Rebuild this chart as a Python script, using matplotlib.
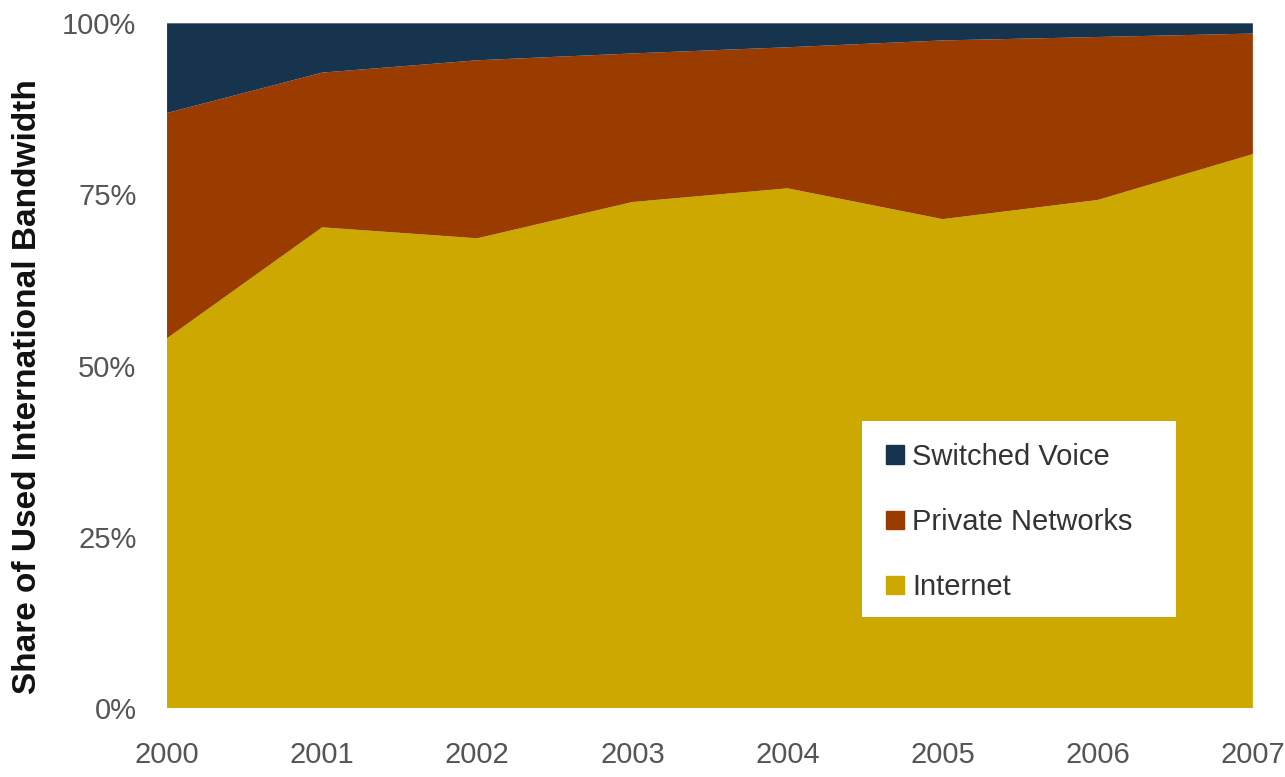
import matplotlib

matplotlib.use("Agg")
import matplotlib.pyplot as plt
from matplotlib.patches import Patch, Rectangle

years = [2000, 2001, 2002, 2003, 2004, 2005, 2006, 2007]
internet = [54.0, 70.2, 68.6, 73.9, 75.9, 71.4, 74.2, 80.9]
private_networks = [32.9, 22.6, 26.0, 21.7, 20.6, 26.1, 23.8, 17.6]
switched_voice = [13.1, 7.2, 5.4, 4.4, 3.5, 2.5, 2.0, 1.5]

series_labels = ["Internet", "Private Networks", "Switched Voice"]
colors = ["#cca800", "#9a3b00", "#17344f"]
y_ticks = [0, 25, 50, 75, 100]

plt.rcParams["font.family"] = ["Liberation Sans Narrow", "Liberation Sans", "DejaVu Sans"]

W, H = 1285, 777
fig = plt.figure(figsize=(W / 100, H / 100), dpi=100)
ax = fig.add_axes([0.130, 0.0888, 0.845, 0.8812])
ax.stackplot(years, internet, private_networks, switched_voice, colors=colors, linewidth=0)
ax.set_xlim(years[0], years[-1])
ax.set_ylim(0, 100)
ax.set_xticks(years)
ax.set_xticklabels([str(y) for y in years])
ax.set_yticks(y_ticks)
ax.set_yticklabels([f"{v}%" for v in y_ticks])
ax.tick_params(length=0, labelsize=21, labelcolor="#555555")
ax.tick_params(axis="x", pad=24)
ax.tick_params(axis="y", pad=22)
for spine in ax.spines.values():
    spine.set_visible(False)
ax.set_ylabel("Share of Used International Bandwidth", fontsize=24, fontweight="bold",
              color="#111111", family=["Liberation Sans", "DejaVu Sans"])
ax.yaxis.set_label_coords(-0.114, 0.469)

# white legend panel, drawn inside the axes so the legend sits above it
ax.add_patch(Rectangle((862 / W, 1 - 617 / H), (1176 - 862) / W, (617 - 421) / H,
                       transform=fig.transFigure, facecolor="white", edgecolor="none",
                       zorder=3, clip_on=False))
handles = [Patch(color=colors[i], label=series_labels[i]) for i in (2, 1, 0)]
leg = ax.legend(handles=handles, loc="upper left", bbox_to_anchor=(886 / W, 1 - 443 / H),
                bbox_transform=fig.transFigure, fontsize=21, frameon=False,
                handlelength=0.6, handleheight=0.6, handletextpad=0.3, labelspacing=1.27,
                borderpad=0, borderaxespad=0)
leg.set_zorder(5)
for t in leg.get_texts():
    t.set_color("#333333")

fig.savefig("out.png", dpi=100)
